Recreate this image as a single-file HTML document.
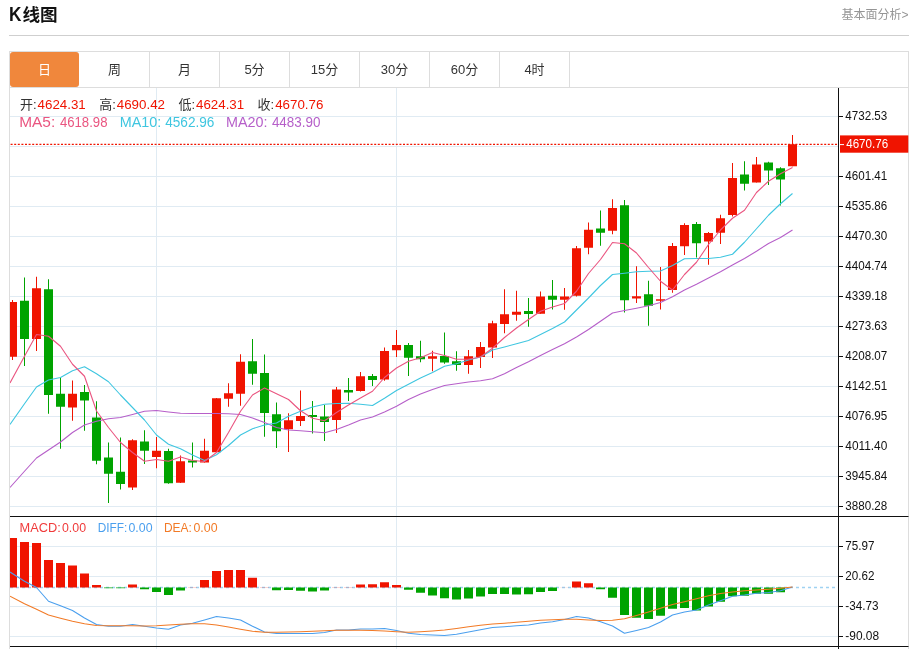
<!DOCTYPE html>
<html lang="zh-CN">
<head>
<meta charset="utf-8">
<title>K线图</title>
<style>
html,body{margin:0;padding:0;background:#fff;}
body{width:913px;height:649px;position:relative;overflow:hidden;font-family:"Liberation Sans","Noto Sans CJK SC",sans-serif;color:#333;}
.title{position:absolute;left:10px;top:3px;font-size:17.6px;line-height:24px;font-weight:bold;color:#111;white-space:nowrap;}
.k{display:inline-block;font-size:19.8px;line-height:20px;transform:scaleX(.87);transform-origin:left bottom;margin-right:-1.1px;margin-left:-0.7px;}
.more{position:absolute;right:4.4px;top:5.5px;font-size:12px;line-height:18px;color:#959595;white-space:nowrap;}
.hr{position:absolute;left:9px;top:35px;width:900px;height:1px;background:#cfcfcf;}
.box{position:absolute;left:9px;top:51px;width:898px;height:600px;border:1px solid #ddd;border-bottom:none;box-sizing:content-box;}
.tabs{position:absolute;left:10px;top:52px;width:898px;height:35px;border-bottom:1px solid #ddd;}
.tab{position:absolute;top:0;width:69px;height:35px;line-height:36px;text-align:center;font-size:13px;color:#333;border-right:1px solid #ddd;}
.tab.on{background:#f0873c;color:#fff;border-radius:3px;border-right:none;width:69px;}
.t{position:absolute;white-space:nowrap;font-size:13px;line-height:16px;}
.red{color:#f01400;}
svg text.ax{font-family:"Liberation Sans",sans-serif;font-size:12.8px;fill:#111;}
</style>
</head>
<body>
<div class="title"><span class="k">K</span>线图</div>
<div class="more">基本面分析&gt;</div>
<div class="hr"></div>
<div class="box"></div>
<div class="tabs">
<div class="tab on" style="left:0">日</div>
<div class="tab" style="left:70px">周</div>
<div class="tab" style="left:140px">月</div>
<div class="tab" style="left:210px">5分</div>
<div class="tab" style="left:280px">15分</div>
<div class="tab" style="left:350px">30分</div>
<div class="tab" style="left:420px">60分</div>
<div class="tab" style="left:490px">4时</div>
</div>
<svg width="913" height="649" viewBox="0 0 913 649" style="position:absolute;left:0;top:0">
<defs><clipPath id="cp"><rect x="10" y="88" width="828" height="559"/></clipPath></defs>
<line x1="10" x2="838" y1="116.5" y2="116.5" stroke="#e0ebf3" stroke-width="1"/>
<line x1="10" x2="838" y1="146.5" y2="146.5" stroke="#e0ebf3" stroke-width="1"/>
<line x1="10" x2="838" y1="176.5" y2="176.5" stroke="#e0ebf3" stroke-width="1"/>
<line x1="10" x2="838" y1="206.5" y2="206.5" stroke="#e0ebf3" stroke-width="1"/>
<line x1="10" x2="838" y1="236.5" y2="236.5" stroke="#e0ebf3" stroke-width="1"/>
<line x1="10" x2="838" y1="266.5" y2="266.5" stroke="#e0ebf3" stroke-width="1"/>
<line x1="10" x2="838" y1="296.5" y2="296.5" stroke="#e0ebf3" stroke-width="1"/>
<line x1="10" x2="838" y1="326.5" y2="326.5" stroke="#e0ebf3" stroke-width="1"/>
<line x1="10" x2="838" y1="356.5" y2="356.5" stroke="#e0ebf3" stroke-width="1"/>
<line x1="10" x2="838" y1="386.5" y2="386.5" stroke="#e0ebf3" stroke-width="1"/>
<line x1="10" x2="838" y1="416.5" y2="416.5" stroke="#e0ebf3" stroke-width="1"/>
<line x1="10" x2="838" y1="446.5" y2="446.5" stroke="#e0ebf3" stroke-width="1"/>
<line x1="10" x2="838" y1="476.5" y2="476.5" stroke="#e0ebf3" stroke-width="1"/>
<line x1="10" x2="838" y1="506.5" y2="506.5" stroke="#e0ebf3" stroke-width="1"/>
<line x1="10" x2="838" y1="546.5" y2="546.5" stroke="#e0ebf3" stroke-width="1"/>
<line x1="10" x2="838" y1="576.5" y2="576.5" stroke="#e0ebf3" stroke-width="1"/>
<line x1="10" x2="838" y1="606.5" y2="606.5" stroke="#e0ebf3" stroke-width="1"/>
<line x1="10" x2="838" y1="636.5" y2="636.5" stroke="#e0ebf3" stroke-width="1"/>
<line x1="156.5" x2="156.5" y1="88" y2="649" stroke="#e0ebf3" stroke-width="1"/>
<line x1="396.5" x2="396.5" y1="88" y2="649" stroke="#e0ebf3" stroke-width="1"/>
<line x1="10" x2="836" y1="587.5" y2="587.5" stroke="#9fd2f2" stroke-width="1.5" stroke-dasharray="3 3"/>
<g clip-path="url(#cp)">
<rect x="12.0" y="300.0" width="1" height="60.00" fill="#f01400"/>
<rect x="8.0" y="302.0" width="9" height="54.75" fill="#f01400"/>
<rect x="24.0" y="277.5" width="1" height="88.50" fill="#00a300"/>
<rect x="20.0" y="300.75" width="9" height="38.25" fill="#00a300"/>
<rect x="36.0" y="276.75" width="1" height="74.25" fill="#f01400"/>
<rect x="32.0" y="288.25" width="9" height="50.75" fill="#f01400"/>
<rect x="48.0" y="279.25" width="1" height="134.50" fill="#00a300"/>
<rect x="44.0" y="289.25" width="9" height="105.75" fill="#00a300"/>
<rect x="60.0" y="377.5" width="1" height="71.25" fill="#00a300"/>
<rect x="56.0" y="393.75" width="9" height="13.00" fill="#00a300"/>
<rect x="72.0" y="380.5" width="1" height="40.25" fill="#f01400"/>
<rect x="68.0" y="393.75" width="9" height="13.75" fill="#f01400"/>
<rect x="84.0" y="385.0" width="1" height="45.75" fill="#00a300"/>
<rect x="80.0" y="392.0" width="9" height="8.50" fill="#00a300"/>
<rect x="96.0" y="401.25" width="1" height="63.00" fill="#00a300"/>
<rect x="92.0" y="417.5" width="9" height="43.25" fill="#00a300"/>
<rect x="108.0" y="442.5" width="1" height="60.50" fill="#00a300"/>
<rect x="104.0" y="457.5" width="9" height="16.25" fill="#00a300"/>
<rect x="120.0" y="437.5" width="1" height="52.00" fill="#00a300"/>
<rect x="116.0" y="471.75" width="9" height="12.25" fill="#00a300"/>
<rect x="132.0" y="439.25" width="1" height="50.75" fill="#f01400"/>
<rect x="128.0" y="440.25" width="9" height="47.25" fill="#f01400"/>
<rect x="144.0" y="430.25" width="1" height="33.75" fill="#00a300"/>
<rect x="140.0" y="441.5" width="9" height="9.25" fill="#00a300"/>
<rect x="156.0" y="437.0" width="1" height="31.25" fill="#f01400"/>
<rect x="152.0" y="450.75" width="9" height="6.25" fill="#f01400"/>
<rect x="168.0" y="448.75" width="1" height="35.00" fill="#00a300"/>
<rect x="164.0" y="451.0" width="9" height="32.25" fill="#00a300"/>
<rect x="180.0" y="455.5" width="1" height="27.50" fill="#f01400"/>
<rect x="176.0" y="461.25" width="9" height="21.50" fill="#f01400"/>
<rect x="192.0" y="442.5" width="1" height="25.00" fill="#00a300"/>
<rect x="188.0" y="460.5" width="9" height="2.00" fill="#00a300"/>
<rect x="204.0" y="438.75" width="1" height="23.75" fill="#f01400"/>
<rect x="200.0" y="450.75" width="9" height="11.75" fill="#f01400"/>
<rect x="216.0" y="398.0" width="1" height="54.50" fill="#f01400"/>
<rect x="212.0" y="398.25" width="9" height="54.00" fill="#f01400"/>
<rect x="228.0" y="383.25" width="1" height="23.50" fill="#f01400"/>
<rect x="224.0" y="393.25" width="9" height="5.50" fill="#f01400"/>
<rect x="240.0" y="354.25" width="1" height="51.50" fill="#f01400"/>
<rect x="236.0" y="361.75" width="9" height="32.00" fill="#f01400"/>
<rect x="252.0" y="339.0" width="1" height="45.75" fill="#00a300"/>
<rect x="248.0" y="361.25" width="9" height="12.50" fill="#00a300"/>
<rect x="264.0" y="354.5" width="1" height="82.25" fill="#00a300"/>
<rect x="260.0" y="373.0" width="9" height="40.00" fill="#00a300"/>
<rect x="276.0" y="402.5" width="1" height="45.50" fill="#00a300"/>
<rect x="272.0" y="414.25" width="9" height="17.00" fill="#00a300"/>
<rect x="288.0" y="413.25" width="1" height="38.75" fill="#f01400"/>
<rect x="284.0" y="420.25" width="9" height="9.00" fill="#f01400"/>
<rect x="300.0" y="390.5" width="1" height="35.50" fill="#f01400"/>
<rect x="296.0" y="416.0" width="9" height="5.00" fill="#f01400"/>
<rect x="312.0" y="401.0" width="1" height="32.50" fill="#00a300"/>
<rect x="308.0" y="415.0" width="9" height="2.00" fill="#00a300"/>
<rect x="324.0" y="405.0" width="1" height="36.00" fill="#00a300"/>
<rect x="320.0" y="416.5" width="9" height="5.50" fill="#00a300"/>
<rect x="336.0" y="387.0" width="1" height="46.00" fill="#f01400"/>
<rect x="332.0" y="389.5" width="9" height="30.50" fill="#f01400"/>
<rect x="348.0" y="378.0" width="1" height="23.00" fill="#00a300"/>
<rect x="344.0" y="390.0" width="9" height="2.50" fill="#00a300"/>
<rect x="360.0" y="372.0" width="1" height="19.50" fill="#f01400"/>
<rect x="356.0" y="376.25" width="9" height="14.75" fill="#f01400"/>
<rect x="372.0" y="374.0" width="1" height="12.00" fill="#00a300"/>
<rect x="368.0" y="376.0" width="9" height="4.00" fill="#00a300"/>
<rect x="384.0" y="347.5" width="1" height="33.25" fill="#f01400"/>
<rect x="380.0" y="351.0" width="9" height="28.50" fill="#f01400"/>
<rect x="396.0" y="330.0" width="1" height="27.00" fill="#f01400"/>
<rect x="392.0" y="345.0" width="9" height="5.25" fill="#f01400"/>
<rect x="408.0" y="343.0" width="1" height="33.00" fill="#00a300"/>
<rect x="404.0" y="345.0" width="9" height="12.75" fill="#00a300"/>
<rect x="420.0" y="340.75" width="1" height="21.50" fill="#00a300"/>
<rect x="416.0" y="356.25" width="9" height="3.00" fill="#00a300"/>
<rect x="432.0" y="350.75" width="1" height="20.50" fill="#f01400"/>
<rect x="428.0" y="356.25" width="9" height="2.50" fill="#f01400"/>
<rect x="444.0" y="332.5" width="1" height="31.25" fill="#00a300"/>
<rect x="440.0" y="356.0" width="9" height="6.50" fill="#00a300"/>
<rect x="456.0" y="351.25" width="1" height="19.50" fill="#00a300"/>
<rect x="452.0" y="361.25" width="9" height="3.75" fill="#00a300"/>
<rect x="468.0" y="350.0" width="1" height="23.75" fill="#f01400"/>
<rect x="464.0" y="356.25" width="9" height="8.75" fill="#f01400"/>
<rect x="480.0" y="342.0" width="1" height="26.00" fill="#f01400"/>
<rect x="476.0" y="347.0" width="9" height="10.00" fill="#f01400"/>
<rect x="492.0" y="320.75" width="1" height="37.25" fill="#f01400"/>
<rect x="488.0" y="323.25" width="9" height="24.25" fill="#f01400"/>
<rect x="504.0" y="289.25" width="1" height="44.00" fill="#f01400"/>
<rect x="500.0" y="314.25" width="9" height="9.75" fill="#f01400"/>
<rect x="516.0" y="290.75" width="1" height="30.00" fill="#f01400"/>
<rect x="512.0" y="311.75" width="9" height="3.00" fill="#f01400"/>
<rect x="528.0" y="298.0" width="1" height="28.75" fill="#00a300"/>
<rect x="524.0" y="311.0" width="9" height="3.00" fill="#00a300"/>
<rect x="540.0" y="291.5" width="1" height="22.25" fill="#f01400"/>
<rect x="536.0" y="296.5" width="9" height="17.25" fill="#f01400"/>
<rect x="552.0" y="280.0" width="1" height="29.50" fill="#00a300"/>
<rect x="548.0" y="295.75" width="9" height="4.00" fill="#00a300"/>
<rect x="564.0" y="288.0" width="1" height="21.75" fill="#f01400"/>
<rect x="560.0" y="296.5" width="9" height="3.25" fill="#f01400"/>
<rect x="576.0" y="246.0" width="1" height="50.50" fill="#f01400"/>
<rect x="572.0" y="248.25" width="9" height="47.50" fill="#f01400"/>
<rect x="588.0" y="222.5" width="1" height="31.75" fill="#f01400"/>
<rect x="584.0" y="229.75" width="9" height="18.00" fill="#f01400"/>
<rect x="600.0" y="210.5" width="1" height="35.25" fill="#00a300"/>
<rect x="596.0" y="228.5" width="9" height="4.25" fill="#00a300"/>
<rect x="612.0" y="199.25" width="1" height="35.00" fill="#f01400"/>
<rect x="608.0" y="208.0" width="9" height="22.75" fill="#f01400"/>
<rect x="624.0" y="200.0" width="1" height="112.50" fill="#00a300"/>
<rect x="620.0" y="205.25" width="9" height="95.00" fill="#00a300"/>
<rect x="636.0" y="266.25" width="1" height="36.75" fill="#f01400"/>
<rect x="632.0" y="296.25" width="9" height="2.25" fill="#f01400"/>
<rect x="648.0" y="280.75" width="1" height="45.00" fill="#00a300"/>
<rect x="644.0" y="294.25" width="9" height="11.50" fill="#00a300"/>
<rect x="660.0" y="267.0" width="1" height="42.50" fill="#f01400"/>
<rect x="656.0" y="299.25" width="9" height="1.50" fill="#f01400"/>
<rect x="672.0" y="243.0" width="1" height="49.75" fill="#f01400"/>
<rect x="668.0" y="246.0" width="9" height="44.00" fill="#f01400"/>
<rect x="684.0" y="223.25" width="1" height="31.75" fill="#f01400"/>
<rect x="680.0" y="225.0" width="9" height="21.25" fill="#f01400"/>
<rect x="696.0" y="222.0" width="1" height="35.50" fill="#00a300"/>
<rect x="692.0" y="224.0" width="9" height="19.25" fill="#00a300"/>
<rect x="708.0" y="232.0" width="1" height="32.75" fill="#f01400"/>
<rect x="704.0" y="233.0" width="9" height="8.50" fill="#f01400"/>
<rect x="720.0" y="214.75" width="1" height="29.25" fill="#f01400"/>
<rect x="716.0" y="218.25" width="9" height="14.50" fill="#f01400"/>
<rect x="732.0" y="163.0" width="1" height="53.50" fill="#f01400"/>
<rect x="728.0" y="178.0" width="9" height="37.00" fill="#f01400"/>
<rect x="744.0" y="161.25" width="1" height="29.25" fill="#00a300"/>
<rect x="740.0" y="174.5" width="9" height="9.25" fill="#00a300"/>
<rect x="756.0" y="157.0" width="1" height="25.50" fill="#f01400"/>
<rect x="752.0" y="164.5" width="9" height="18.00" fill="#f01400"/>
<rect x="768.0" y="161.75" width="1" height="23.25" fill="#00a300"/>
<rect x="764.0" y="162.5" width="9" height="8.00" fill="#00a300"/>
<rect x="780.0" y="167.25" width="1" height="38.25" fill="#00a300"/>
<rect x="776.0" y="168.25" width="9" height="11.25" fill="#00a300"/>
<rect x="792.0" y="135.0" width="1" height="31.25" fill="#f01400"/>
<rect x="788.0" y="144.25" width="9" height="22.00" fill="#f01400"/>
<rect x="8.0" y="538" width="9" height="49.50" fill="#f01400" opacity="1"/>
<rect x="20.0" y="542" width="9" height="45.50" fill="#f01400" opacity="1"/>
<rect x="32.0" y="543" width="9" height="44.50" fill="#f01400" opacity="1"/>
<rect x="44.0" y="560" width="9" height="27.50" fill="#f01400" opacity="1"/>
<rect x="56.0" y="563" width="9" height="24.50" fill="#f01400" opacity="1"/>
<rect x="68.0" y="565.5" width="9" height="22.00" fill="#f01400" opacity="1"/>
<rect x="80.0" y="573.5" width="9" height="14.00" fill="#f01400" opacity="1"/>
<rect x="92.0" y="585" width="9" height="2.50" fill="#f01400" opacity="1"/>
<rect x="104.0" y="587.5" width="9" height="0.70" fill="#00a300" opacity="1"/>
<rect x="116.0" y="587.5" width="9" height="0.70" fill="#00a300" opacity="1"/>
<rect x="128.0" y="584.5" width="9" height="3.00" fill="#f01400" opacity="1"/>
<rect x="140.0" y="587.5" width="9" height="1.75" fill="#00a300" opacity="1"/>
<rect x="152.0" y="587.5" width="9" height="4.50" fill="#00a300" opacity="1"/>
<rect x="164.0" y="587.5" width="9" height="7.50" fill="#00a300" opacity="1"/>
<rect x="176.0" y="587.5" width="9" height="3.00" fill="#00a300" opacity="1"/>
<rect x="188.0" y="587" width="9" height="0.50" fill="#f01400" opacity="0.35"/>
<rect x="200.0" y="580" width="9" height="7.50" fill="#f01400" opacity="1"/>
<rect x="212.0" y="571" width="9" height="16.50" fill="#f01400" opacity="1"/>
<rect x="224.0" y="570" width="9" height="17.50" fill="#f01400" opacity="1"/>
<rect x="236.0" y="570" width="9" height="17.50" fill="#f01400" opacity="1"/>
<rect x="248.0" y="577.75" width="9" height="9.75" fill="#f01400" opacity="1"/>
<rect x="260.0" y="587" width="9" height="0.50" fill="#f01400" opacity="0.35"/>
<rect x="272.0" y="587.5" width="9" height="2.75" fill="#00a300" opacity="1"/>
<rect x="284.0" y="587.5" width="9" height="2.50" fill="#00a300" opacity="1"/>
<rect x="296.0" y="587.5" width="9" height="3.25" fill="#00a300" opacity="1"/>
<rect x="308.0" y="587.5" width="9" height="4.00" fill="#00a300" opacity="1"/>
<rect x="320.0" y="587.5" width="9" height="3.00" fill="#00a300" opacity="1"/>
<rect x="332.0" y="587" width="9" height="0.50" fill="#f01400" opacity="0.35"/>
<rect x="344.0" y="587" width="9" height="0.50" fill="#f01400" opacity="0.35"/>
<rect x="356.0" y="584.5" width="9" height="3.00" fill="#f01400" opacity="1"/>
<rect x="368.0" y="584.25" width="9" height="3.25" fill="#f01400" opacity="1"/>
<rect x="380.0" y="582.25" width="9" height="5.25" fill="#f01400" opacity="1"/>
<rect x="392.0" y="585" width="9" height="2.50" fill="#f01400" opacity="1"/>
<rect x="404.0" y="587.5" width="9" height="2.25" fill="#00a300" opacity="1"/>
<rect x="416.0" y="587.5" width="9" height="5.25" fill="#00a300" opacity="1"/>
<rect x="428.0" y="587.5" width="9" height="8.00" fill="#00a300" opacity="1"/>
<rect x="440.0" y="587.5" width="9" height="10.75" fill="#00a300" opacity="1"/>
<rect x="452.0" y="587.5" width="9" height="12.00" fill="#00a300" opacity="1"/>
<rect x="464.0" y="587.5" width="9" height="11.00" fill="#00a300" opacity="1"/>
<rect x="476.0" y="587.5" width="9" height="9.00" fill="#00a300" opacity="1"/>
<rect x="488.0" y="587.5" width="9" height="6.50" fill="#00a300" opacity="1"/>
<rect x="500.0" y="587.5" width="9" height="6.50" fill="#00a300" opacity="1"/>
<rect x="512.0" y="587.5" width="9" height="7.00" fill="#00a300" opacity="1"/>
<rect x="524.0" y="587.5" width="9" height="6.75" fill="#00a300" opacity="1"/>
<rect x="536.0" y="587.5" width="9" height="4.50" fill="#00a300" opacity="1"/>
<rect x="548.0" y="587.5" width="9" height="3.50" fill="#00a300" opacity="1"/>
<rect x="560.0" y="587.3" width="9" height="0.20" fill="#f01400" opacity="0.35"/>
<rect x="572.0" y="581.5" width="9" height="6.00" fill="#f01400" opacity="1"/>
<rect x="584.0" y="583.25" width="9" height="4.25" fill="#f01400" opacity="1"/>
<rect x="596.0" y="587.5" width="9" height="1.75" fill="#00a300" opacity="1"/>
<rect x="608.0" y="587.5" width="9" height="10.25" fill="#00a300" opacity="1"/>
<rect x="620.0" y="587.5" width="9" height="27.50" fill="#00a300" opacity="1"/>
<rect x="632.0" y="587.5" width="9" height="30.25" fill="#00a300" opacity="1"/>
<rect x="644.0" y="587.5" width="9" height="31.50" fill="#00a300" opacity="1"/>
<rect x="656.0" y="587.5" width="9" height="28.25" fill="#00a300" opacity="1"/>
<rect x="668.0" y="587.5" width="9" height="21.25" fill="#00a300" opacity="1"/>
<rect x="680.0" y="587.5" width="9" height="20.50" fill="#00a300" opacity="1"/>
<rect x="692.0" y="587.5" width="9" height="23.00" fill="#00a300" opacity="1"/>
<rect x="704.0" y="587.5" width="9" height="19.00" fill="#00a300" opacity="1"/>
<rect x="716.0" y="587.5" width="9" height="14.25" fill="#00a300" opacity="1"/>
<rect x="728.0" y="587.5" width="9" height="8.75" fill="#00a300" opacity="1"/>
<rect x="740.0" y="587.5" width="9" height="8.25" fill="#00a300" opacity="1"/>
<rect x="752.0" y="587.5" width="9" height="6.25" fill="#00a300" opacity="1"/>
<rect x="764.0" y="587.5" width="9" height="6.25" fill="#00a300" opacity="1"/>
<rect x="776.0" y="587.5" width="9" height="4.75" fill="#00a300" opacity="1"/>
<polyline fill="none" stroke="#b65fc9" stroke-width="1.1" stroke-linejoin="round" points="10,487.5 24.5,471.25 36.5,458 48.5,450 60.5,442 72.5,432.5 84.5,425 96.5,421.25 108.5,418.75 120.5,417.5 132.5,414.5 144.5,411.25 156.5,410.5 168.5,412 180.5,413.25 192.5,413.5 204.5,413.5 216.5,413.5 228.5,413.75 240.5,414.5 252.5,418 264.5,422.5 276.5,427.5 288.5,430 300.5,430.75 312.5,431.75 324.5,432.75 336.5,429.5 348.5,425 360.5,420 372.5,417 384.5,412 396.5,406.25 408.5,399.5 420.5,394 432.5,389.5 444.5,385.5 456.5,383.75 468.5,382 480.5,380.75 492.5,378.75 504.5,373.75 516.5,367.5 528.5,361.75 540.5,355.5 552.5,349.5 564.5,343.75 576.5,337 588.5,329.5 600.5,321.25 612.5,313 624.5,310.5 636.5,308.25 648.5,305.75 660.5,302.5 672.5,296.75 684.5,290 696.5,284.25 708.5,278 720.5,271.75 732.5,265 744.5,258.5 756.5,251.25 768.5,243.5 780.5,237.5 792.5,230"/>
<polyline fill="none" stroke="#3fc6e0" stroke-width="1.1" stroke-linejoin="round" points="10,424.5 24.5,403.75 36.5,387 48.5,380 60.5,377.5 72.5,370.75 84.5,366.75 96.5,373.75 108.5,381.75 120.5,395 132.5,407.5 144.5,420 156.5,435 168.5,444.25 180.5,448.75 192.5,455 204.5,460.5 216.5,454.75 228.5,445.5 240.5,435 252.5,428.75 264.5,425 276.5,423 288.5,416.25 300.5,411.25 312.5,407 324.5,404.25 336.5,403.5 348.5,403.25 360.5,404.25 372.5,405.5 384.5,398.25 396.5,390.5 408.5,384.25 420.5,378 432.5,372.5 444.5,366.25 456.5,363.75 468.5,360 480.5,357 492.5,350 504.5,347 516.5,343.75 528.5,340.5 540.5,334.5 552.5,328.5 564.5,322 576.5,310 588.5,298 600.5,285.5 612.5,274.5 624.5,273.25 636.5,271.75 648.5,271.25 660.5,271 672.5,265.5 684.5,258.75 696.5,258.5 708.5,258.5 720.5,257.25 732.5,254.25 744.5,242.25 756.5,228.75 768.5,215.25 780.5,203.75 792.5,193.5"/>
<polyline fill="none" stroke="#ea5580" stroke-width="1.1" stroke-linejoin="round" points="10,383 24.5,356.25 36.5,334.5 48.5,336.25 60.5,346.25 72.5,364.25 84.5,376.25 96.5,411 108.5,427.5 120.5,442.5 132.5,452.5 144.5,461.25 156.5,459.5 168.5,461.25 180.5,457 192.5,460.5 204.5,461.5 216.5,452.5 228.5,432.5 240.5,411.25 252.5,395 264.5,388 276.5,393.75 288.5,399.5 300.5,410.75 312.5,418.25 324.5,420.75 336.5,412.5 348.5,405 360.5,398 372.5,391.25 384.5,377.5 396.5,368 408.5,361.25 420.5,357.75 432.5,352.5 444.5,355.5 456.5,359.25 468.5,359.25 480.5,357 492.5,348.25 504.5,337.5 516.5,328 528.5,319.5 540.5,311.25 552.5,307 564.5,303.5 576.5,291.25 588.5,273.5 600.5,259.5 612.5,242.5 624.5,243.75 636.5,253 648.5,267.5 660.5,281.25 672.5,290 684.5,274.5 696.5,262.25 708.5,244.5 720.5,230 732.5,218.25 744.5,210.25 756.5,192.5 768.5,181.25 780.5,173.75 792.5,167.5"/>
<polyline fill="none" stroke="#4a9fee" stroke-width="1.1" stroke-linejoin="round" points="10,572 24.5,581.25 36.5,587.5 48.5,601.25 60.5,605.75 72.5,610.5 84.5,618 96.5,624.5 108.5,626.25 120.5,626.25 132.5,624.5 144.5,626.25 156.5,628 168.5,629.25 180.5,625 192.5,623.25 204.5,620 216.5,616.5 228.5,618 240.5,620 252.5,626.25 264.5,632 276.5,633.5 288.5,633.5 300.5,633.5 312.5,633.5 324.5,632.5 336.5,630 348.5,630 360.5,629 372.5,629 384.5,628.5 396.5,630.5 408.5,633.25 420.5,634.5 432.5,635 444.5,635.5 456.5,634.25 468.5,632 480.5,629.75 492.5,627.5 504.5,626.75 516.5,625.75 528.5,625 540.5,623 552.5,621.75 564.5,619.5 576.5,616.5 588.5,618 600.5,621.75 612.5,626 624.5,633.25 636.5,630.5 648.5,627.5 660.5,622 672.5,615 684.5,612 696.5,610 708.5,605 720.5,600.75 732.5,596.25 744.5,595 756.5,593.25 768.5,592.5 780.5,590.75 792.5,587"/>
<polyline fill="none" stroke="#f27a26" stroke-width="1.1" stroke-linejoin="round" points="10,596.25 24.5,603.75 36.5,609.25 48.5,615 60.5,618.25 72.5,621.25 84.5,623.75 96.5,625.5 108.5,625.75 120.5,625.75 132.5,625.75 144.5,626 156.5,625.75 168.5,625 180.5,624.25 192.5,623.75 204.5,623.75 216.5,625 228.5,627 240.5,629.25 252.5,631.25 264.5,632.25 276.5,632.25 288.5,632 300.5,631.75 312.5,631.25 324.5,630.75 336.5,630.25 348.5,630.25 360.5,630.25 372.5,630.5 384.5,631 396.5,631.75 408.5,632.25 420.5,631.75 432.5,631 444.5,630 456.5,628.5 468.5,626.75 480.5,625.25 492.5,624 504.5,623.25 516.5,622.25 528.5,621.25 540.5,620.25 552.5,619.75 564.5,619.25 576.5,619.25 588.5,620 600.5,620.5 612.5,620.25 624.5,618.75 636.5,615.5 648.5,612 660.5,608.25 672.5,604.5 684.5,601.75 696.5,598.75 708.5,595.75 720.5,593.5 732.5,592 744.5,590.75 756.5,590 768.5,589.25 780.5,588.25 792.5,587"/>
</g>
<line x1="10.6" x2="838" y1="144.4" y2="144.4" stroke="#f01400" stroke-width="1.1" stroke-dasharray="2 1.6"/>
<rect x="838" y="88" width="1" height="561" fill="#111"/>
<rect x="10" y="516" width="898.5" height="1" fill="#111"/>
<rect x="10" y="646" width="898.5" height="1" fill="#111"/>
<line x1="839" x2="843" y1="116.5" y2="116.5" stroke="#111" stroke-width="1"/>
<text x="845.3" y="120.3" class="ax" textLength="42" lengthAdjust="spacingAndGlyphs">4732.53</text>
<line x1="839" x2="843" y1="176.5" y2="176.5" stroke="#111" stroke-width="1"/>
<text x="845.3" y="180.3" class="ax" textLength="42" lengthAdjust="spacingAndGlyphs">4601.41</text>
<line x1="839" x2="843" y1="206.5" y2="206.5" stroke="#111" stroke-width="1"/>
<text x="845.3" y="210.3" class="ax" textLength="42" lengthAdjust="spacingAndGlyphs">4535.86</text>
<line x1="839" x2="843" y1="236.5" y2="236.5" stroke="#111" stroke-width="1"/>
<text x="845.3" y="240.3" class="ax" textLength="42" lengthAdjust="spacingAndGlyphs">4470.30</text>
<line x1="839" x2="843" y1="266.5" y2="266.5" stroke="#111" stroke-width="1"/>
<text x="845.3" y="270.3" class="ax" textLength="42" lengthAdjust="spacingAndGlyphs">4404.74</text>
<line x1="839" x2="843" y1="296.5" y2="296.5" stroke="#111" stroke-width="1"/>
<text x="845.3" y="300.3" class="ax" textLength="42" lengthAdjust="spacingAndGlyphs">4339.18</text>
<line x1="839" x2="843" y1="326.5" y2="326.5" stroke="#111" stroke-width="1"/>
<text x="845.3" y="330.3" class="ax" textLength="42" lengthAdjust="spacingAndGlyphs">4273.63</text>
<line x1="839" x2="843" y1="356.5" y2="356.5" stroke="#111" stroke-width="1"/>
<text x="845.3" y="360.3" class="ax" textLength="42" lengthAdjust="spacingAndGlyphs">4208.07</text>
<line x1="839" x2="843" y1="386.5" y2="386.5" stroke="#111" stroke-width="1"/>
<text x="845.3" y="390.3" class="ax" textLength="42" lengthAdjust="spacingAndGlyphs">4142.51</text>
<line x1="839" x2="843" y1="416.5" y2="416.5" stroke="#111" stroke-width="1"/>
<text x="845.3" y="420.3" class="ax" textLength="42" lengthAdjust="spacingAndGlyphs">4076.95</text>
<line x1="839" x2="843" y1="446.5" y2="446.5" stroke="#111" stroke-width="1"/>
<text x="845.3" y="450.3" class="ax" textLength="42" lengthAdjust="spacingAndGlyphs">4011.40</text>
<line x1="839" x2="843" y1="476.5" y2="476.5" stroke="#111" stroke-width="1"/>
<text x="845.3" y="480.3" class="ax" textLength="42" lengthAdjust="spacingAndGlyphs">3945.84</text>
<line x1="839" x2="843" y1="506.5" y2="506.5" stroke="#111" stroke-width="1"/>
<text x="845.3" y="510.3" class="ax" textLength="42" lengthAdjust="spacingAndGlyphs">3880.28</text>
<line x1="839" x2="843" y1="546.5" y2="546.5" stroke="#111" stroke-width="1"/>
<text x="845.3" y="550.3" class="ax" textLength="29.2" lengthAdjust="spacingAndGlyphs">75.97</text>
<line x1="839" x2="843" y1="576.5" y2="576.5" stroke="#111" stroke-width="1"/>
<text x="845.3" y="580.3" class="ax" textLength="29.2" lengthAdjust="spacingAndGlyphs">20.62</text>
<line x1="839" x2="843" y1="606.5" y2="606.5" stroke="#111" stroke-width="1"/>
<text x="845.3" y="610.3" class="ax" textLength="33.3" lengthAdjust="spacingAndGlyphs">-34.73</text>
<line x1="839" x2="843" y1="636.5" y2="636.5" stroke="#111" stroke-width="1"/>
<text x="845.3" y="640.3" class="ax" textLength="33.8" lengthAdjust="spacingAndGlyphs">-90.08</text>
<rect x="840" y="135.4" width="68.3" height="17.3" fill="#f01400"/>
<line x1="840" x2="844" y1="144.6" y2="144.6" stroke="#fff" stroke-width="1"/>
<text x="846.2" y="148.3" class="ax" style="fill:#fff" textLength="42" lengthAdjust="spacingAndGlyphs">4670.76</text>
<text x="20.0" y="108.5" fill="#333" font-size="13" font-family="Liberation Sans, Noto Sans CJK SC, sans-serif">开:</text>
<text x="37.6" y="108.8" fill="#f01400" font-size="13.5" font-family="Liberation Sans, Noto Sans CJK SC, sans-serif" textLength="48.2" lengthAdjust="spacingAndGlyphs">4624.31</text>
<text x="99.2" y="108.5" fill="#333" font-size="13" font-family="Liberation Sans, Noto Sans CJK SC, sans-serif">高:</text>
<text x="116.80000000000001" y="108.8" fill="#f01400" font-size="13.5" font-family="Liberation Sans, Noto Sans CJK SC, sans-serif" textLength="48.2" lengthAdjust="spacingAndGlyphs">4690.42</text>
<text x="178.4" y="108.5" fill="#333" font-size="13" font-family="Liberation Sans, Noto Sans CJK SC, sans-serif">低:</text>
<text x="196.0" y="108.8" fill="#f01400" font-size="13.5" font-family="Liberation Sans, Noto Sans CJK SC, sans-serif" textLength="48.2" lengthAdjust="spacingAndGlyphs">4624.31</text>
<text x="257.6" y="108.5" fill="#333" font-size="13" font-family="Liberation Sans, Noto Sans CJK SC, sans-serif">收:</text>
<text x="275.20000000000005" y="108.8" fill="#f01400" font-size="13.5" font-family="Liberation Sans, Noto Sans CJK SC, sans-serif" textLength="48.2" lengthAdjust="spacingAndGlyphs">4670.76</text>
<text x="19.2" y="127.4" fill="#ea5580" font-size="14" font-family="Liberation Sans, Noto Sans CJK SC, sans-serif" textLength="36" lengthAdjust="spacingAndGlyphs">MA5:</text>
<text x="59.9" y="127.4" fill="#ea5580" font-size="14" font-family="Liberation Sans, Noto Sans CJK SC, sans-serif" textLength="47.6" lengthAdjust="spacingAndGlyphs">4618.98</text>
<text x="119.8" y="127.4" fill="#3fc6e0" font-size="14" font-family="Liberation Sans, Noto Sans CJK SC, sans-serif" textLength="41.5" lengthAdjust="spacingAndGlyphs">MA10:</text>
<text x="165.2" y="127.4" fill="#3fc6e0" font-size="14" font-family="Liberation Sans, Noto Sans CJK SC, sans-serif" textLength="49.2" lengthAdjust="spacingAndGlyphs">4562.96</text>
<text x="226" y="127.4" fill="#b65fc9" font-size="14" font-family="Liberation Sans, Noto Sans CJK SC, sans-serif" textLength="41.5" lengthAdjust="spacingAndGlyphs">MA20:</text>
<text x="271.9" y="127.4" fill="#b65fc9" font-size="14" font-family="Liberation Sans, Noto Sans CJK SC, sans-serif" textLength="48.6" lengthAdjust="spacingAndGlyphs">4483.90</text>
<text x="19.6" y="532.1" fill="#f03a3a" font-size="12.3" font-family="Liberation Sans, Noto Sans CJK SC, sans-serif" textLength="41.2" lengthAdjust="spacingAndGlyphs">MACD:</text>
<text x="62" y="532.1" fill="#f03a3a" font-size="12.3" font-family="Liberation Sans, Noto Sans CJK SC, sans-serif" textLength="24" lengthAdjust="spacingAndGlyphs">0.00</text>
<text x="97.7" y="532.1" fill="#4a9fee" font-size="12.3" font-family="Liberation Sans, Noto Sans CJK SC, sans-serif" textLength="29.6" lengthAdjust="spacingAndGlyphs">DIFF:</text>
<text x="128.5" y="532.1" fill="#4a9fee" font-size="12.3" font-family="Liberation Sans, Noto Sans CJK SC, sans-serif" textLength="24" lengthAdjust="spacingAndGlyphs">0.00</text>
<text x="163.9" y="532.1" fill="#f27a26" font-size="12.3" font-family="Liberation Sans, Noto Sans CJK SC, sans-serif" textLength="27.9" lengthAdjust="spacingAndGlyphs">DEA:</text>
<text x="193.5" y="532.1" fill="#f27a26" font-size="12.3" font-family="Liberation Sans, Noto Sans CJK SC, sans-serif" textLength="24" lengthAdjust="spacingAndGlyphs">0.00</text>
</svg>
</body>
</html>
